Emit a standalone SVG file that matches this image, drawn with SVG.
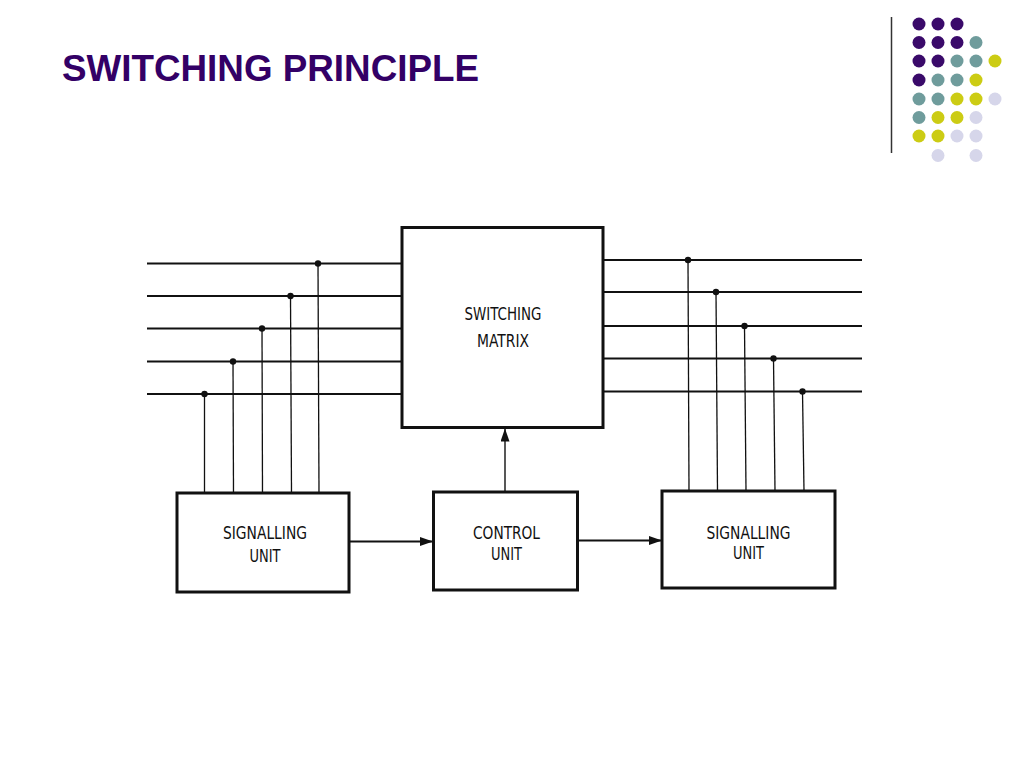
<svg xmlns="http://www.w3.org/2000/svg" width="1024" height="768" viewBox="0 0 1024 768">
<style>
.title{font-family:"Liberation Sans",Arial,sans-serif;font-weight:bold;font-size:37px;fill:#330066}
.lbl{font-family:"Liberation Sans Narrow","DejaVu Sans Condensed","Liberation Sans",sans-serif;font-size:17px;fill:#111;text-anchor:middle}
.box{fill:#fff;stroke:#111;stroke-width:3}
.bus{stroke:#111;stroke-width:2;fill:none}
.tap{stroke:#111;stroke-width:1.3;fill:none}
.jn{fill:#111}
.flow{stroke:#111;stroke-width:2;fill:none}
.p{fill:#3a0a6a}.t{fill:#6f9c9c}.y{fill:#cccc14}.l{fill:#d6d6ea}
</style>
<defs>
<marker id="ah" viewBox="0 0 13 9" refX="13" refY="4.5" markerWidth="13" markerHeight="9" markerUnits="userSpaceOnUse" orient="auto">
<path d="M0,0 L13,4.5 L0,9 Z" fill="#111"/>
</marker>
</defs>
<rect width="1024" height="768" fill="#fff"/>
<text class="title" x="62" y="81" textLength="417" lengthAdjust="spacingAndGlyphs">SWITCHING PRINCIPLE</text>
<g id="decor">
<line x1="891.5" y1="17" x2="891.5" y2="153" stroke="#333" stroke-width="1.5"/>
<circle class="p" cx="919" cy="24" r="6.5"/><circle class="p" cx="938" cy="24" r="6.5"/><circle class="p" cx="957" cy="24" r="6.5"/>
<circle class="p" cx="919" cy="42.5" r="6.5"/><circle class="p" cx="938" cy="42.5" r="6.5"/><circle class="p" cx="957" cy="42.5" r="6.5"/><circle class="t" cx="976" cy="42.5" r="6.5"/>
<circle class="p" cx="919" cy="61" r="6.5"/><circle class="p" cx="938" cy="61" r="6.5"/><circle class="t" cx="957" cy="61" r="6.5"/><circle class="t" cx="976" cy="61" r="6.5"/><circle class="y" cx="995" cy="61" r="6.5"/>
<circle class="p" cx="919" cy="80" r="6.5"/><circle class="t" cx="938" cy="80" r="6.5"/><circle class="t" cx="957" cy="80" r="6.5"/><circle class="y" cx="976" cy="80" r="6.5"/>
<circle class="t" cx="919" cy="99" r="6.5"/><circle class="t" cx="938" cy="99" r="6.5"/><circle class="y" cx="957" cy="99" r="6.5"/><circle class="y" cx="976" cy="99" r="6.5"/><circle class="l" cx="995" cy="99" r="6.5"/>
<circle class="t" cx="919" cy="117.5" r="6.5"/><circle class="y" cx="938" cy="117.5" r="6.5"/><circle class="y" cx="957" cy="117.5" r="6.5"/><circle class="l" cx="976" cy="117.5" r="6.5"/>
<circle class="y" cx="919" cy="136" r="6.5"/><circle class="y" cx="938" cy="136" r="6.5"/><circle class="l" cx="957" cy="136" r="6.5"/><circle class="l" cx="976" cy="136" r="6.5"/>
<circle class="l" cx="938" cy="155.5" r="6.5"/><circle class="l" cx="976" cy="155.5" r="6.5"/>
</g>
<g id="connectors">
<line class="bus" x1="147" y1="263.5" x2="402" y2="263.5"/>
<line class="bus" x1="147" y1="296" x2="402" y2="296"/>
<line class="bus" x1="147" y1="328.5" x2="402" y2="328.5"/>
<line class="bus" x1="147" y1="361.5" x2="402" y2="361.5"/>
<line class="bus" x1="147" y1="394" x2="402" y2="394"/>
<line class="tap" x1="318" y1="263.5" x2="319" y2="493"/>
<line class="tap" x1="290.5" y1="296" x2="291.5" y2="493"/>
<line class="tap" x1="262" y1="328.5" x2="262.5" y2="493"/>
<line class="tap" x1="233" y1="361.5" x2="233.5" y2="493"/>
<line class="tap" x1="204.5" y1="394" x2="204.5" y2="493"/>
<circle class="jn" cx="318" cy="263.5" r="3.2"/>
<circle class="jn" cx="290.5" cy="296" r="3.2"/>
<circle class="jn" cx="262" cy="328.5" r="3.2"/>
<circle class="jn" cx="233" cy="361.5" r="3.2"/>
<circle class="jn" cx="204.5" cy="394" r="3.2"/>
<line class="bus" x1="603" y1="260" x2="862" y2="260"/>
<line class="bus" x1="603" y1="292" x2="862" y2="292"/>
<line class="bus" x1="603" y1="326" x2="862" y2="326"/>
<line class="bus" x1="603" y1="358.5" x2="862" y2="358.5"/>
<line class="bus" x1="603" y1="391.5" x2="862" y2="391.5"/>
<line class="tap" x1="688" y1="260" x2="689" y2="491"/>
<line class="tap" x1="716" y1="292" x2="717.5" y2="491"/>
<line class="tap" x1="744.5" y1="326" x2="746" y2="491"/>
<line class="tap" x1="773.5" y1="358.5" x2="775" y2="491"/>
<line class="tap" x1="802.5" y1="391.5" x2="804" y2="491"/>
<circle class="jn" cx="688" cy="260" r="3.2"/>
<circle class="jn" cx="716" cy="292" r="3.2"/>
<circle class="jn" cx="744.5" cy="326" r="3.2"/>
<circle class="jn" cx="773.5" cy="358.5" r="3.2"/>
<circle class="jn" cx="802.5" cy="391.5" r="3.2"/>
<line class="flow" x1="350" y1="541.5" x2="433" y2="541.5" marker-end="url(#ah)"/>
<line class="flow" x1="579" y1="540.5" x2="662" y2="540.5" marker-end="url(#ah)"/>
<line x1="505" y1="491" x2="505" y2="428.5" stroke="#111" stroke-width="1.4" marker-end="url(#ah)"/>
</g>
<g id="switching-matrix">
<rect class="box" x="402" y="227.5" width="201" height="200"/>
<text class="lbl" x="503" y="320" textLength="77" lengthAdjust="spacingAndGlyphs">SWITCHING</text>
<text class="lbl" x="503" y="346.5" textLength="52" lengthAdjust="spacingAndGlyphs">MATRIX</text>
</g>
<g id="signalling-unit-left">
<rect class="box" x="177" y="493" width="172" height="99"/>
<text class="lbl" x="265" y="538.5" textLength="84" lengthAdjust="spacingAndGlyphs">SIGNALLING</text>
<text class="lbl" x="265" y="561.5" textLength="31" lengthAdjust="spacingAndGlyphs">UNIT</text>
</g>
<g id="control-unit">
<rect class="box" x="433.5" y="492" width="144" height="98"/>
<text class="lbl" x="506.5" y="538.5" textLength="67" lengthAdjust="spacingAndGlyphs">CONTROL</text>
<text class="lbl" x="506.5" y="560" textLength="31" lengthAdjust="spacingAndGlyphs">UNIT</text>
</g>
<g id="signalling-unit-right">
<rect class="box" x="662" y="491" width="173" height="97"/>
<text class="lbl" x="748.5" y="538.5" textLength="84" lengthAdjust="spacingAndGlyphs">SIGNALLING</text>
<text class="lbl" x="748.5" y="558.5" textLength="31" lengthAdjust="spacingAndGlyphs">UNIT</text>
</g>
</svg>
